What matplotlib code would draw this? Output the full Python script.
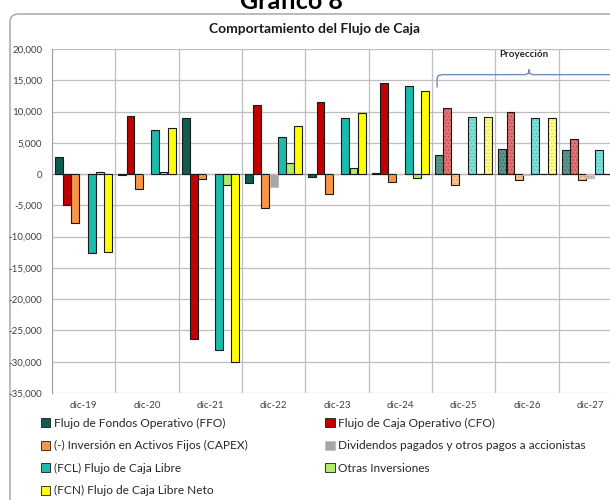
import numpy as np
import matplotlib
matplotlib.use('Agg')
import matplotlib.pyplot as plt
from matplotlib.patches import Patch, FancyBboxPatch

plt.rcParams['font.family'] = ['Lato', 'DejaVu Sans']
plt.rcParams['hatch.linewidth'] = 0.6

years = ['dic-19', 'dic-20', 'dic-21', 'dic-22', 'dic-23', 'dic-24', 'dic-25', 'dic-26', 'dic-27']
first_proj = 6  # dic-25 en adelante es proyeccion

series_names = ['Flujo de Fondos Operativo (FFO)',
                'Flujo de Caja Operativo (CFO)',
                '(-) Inversión en Activos Fijos (CAPEX)',
                'Dividendos pagados y otros pagos a accionistas',
                '(FCL) Flujo de Caja Libre',
                'Otras Inversiones',
                '(FCN) Flujo de Caja Libre Neto']

ffo = [2800, -150, 9000, -1500, -500, 150, 3100, 4000, 3800]
cfo = [-5000, 9300, -26300, 11100, 11500, 14600, 10500, 10000, 5600]
capex = [-7800, -2400, -800, -5400, -3200, -1300, -1800, -1000, -1000]
dividendos = [0, 0, 0, -2000, 0, 0, 0, -200, -700]
fcl = [-12600, 7000, -28100, 5900, 8900, 14100, 9200, 9000, 3900]
otras = [350, 300, -1700, 1800, 900, -700, 0, 0, 0]
fcn = [-12400, 7300, -30000, 7700, 9700, 13300, 9200, 9000, 3900]

all_series = [ffo, cfo, capex, dividendos, fcl, otras, fcn]

colors = ['#0F5C50', '#C00000', '#F79646', '#A6A6A6', '#1BBCAC', '#B0EC68', '#FFFF00']
proj_colors = ['#5C978D', '#E47474', '#FAC393', '#C9C9C9', '#80E0D8', '#D2F5A8', '#FFFF88']
hatch_colors = ['#2F6F64', '#B84040', '#E8A060', '#A0A0A0', '#40C0B4', '#A8D878', '#D8D840']
edge_colors = ['#1a1a1a', '#1a1a1a', '#1a1a1a', '#BFBFBF', '#1a1a1a', '#1a1a1a', '#1a1a1a']

fig = plt.figure(figsize=(6.1, 5.0), dpi=100)

# marco exterior del grafico
frame = FancyBboxPatch((10 / 610, -0.05), 1.2, 0.972 + 0.05,
                       boxstyle='round,pad=0,rounding_size=0.015',
                       transform=fig.transFigure, facecolor='none',
                       edgecolor='#A0A0A0', linewidth=1.0, zorder=-1)
fig.patches.append(frame)

ax = fig.add_axes([52 / 610, 0.214, 570 / 610, 0.688])
ax.set_facecolor('none')

x = np.arange(len(years))
slot = 0.13
width = 0.125

for j, vals in enumerate(all_series):
    pos = x + (j - 3) * slot
    vals = np.array(vals)
    hist = x < first_proj
    ax.bar(pos[hist], vals[hist], width, color=colors[j],
           edgecolor=edge_colors[j], linewidth=0.8, zorder=3)
    proj = ~hist
    ax.bar(pos[proj], vals[proj], width, color=proj_colors[j],
           edgecolor=hatch_colors[j], hatch='.....', linewidth=0, zorder=3)
    ax.bar(pos[proj], vals[proj], width, color='none',
           edgecolor=edge_colors[j], linewidth=0.8, zorder=4)

ax.set_xlim(-0.5, len(years) - 0.5)
ax.set_ylim(-35000, 20000)
ax.set_yticks(np.arange(-35000, 20001, 5000))
ax.yaxis.set_major_formatter(matplotlib.ticker.FuncFormatter(lambda v, p: '{:,.0f}'.format(v)))
ax.set_xticks(x)
ax.set_xticklabels(years)
ax.set_xticks(np.arange(-0.5, len(years), 1), minor=True)
ax.tick_params(axis='both', which='both', length=0, labelsize=7, colors='#404040', pad=6)
ax.tick_params(axis='y', pad=7)
ax.grid(axis='y', which='major', color='#BEBEBE', linewidth=0.9, zorder=0)
ax.grid(axis='x', which='minor', color='#BEBEBE', linewidth=0.9, zorder=0)
ax.grid(axis='x', which='major', visible=False)
for s in ['top', 'right', 'bottom']:
    ax.spines[s].set_visible(False)
ax.spines['left'].set_color('#A0A0A0')
ax.axhline(0, color='#A0A0A0', linewidth=0.9, zorder=2)

# llave de proyeccion
bx0 = first_proj - 0.42
bmid = first_proj + 1.03
by = 15900
brace_x = [bx0, bx0, bx0 + 0.02, bx0 + 0.08, bmid - 0.06, bmid - 0.01, bmid,
           bmid + 0.01, bmid + 0.06, len(years) + 0.2]
brace_y = [13950, 15300, 15750, by, by, by + 200, 16700, by + 200, by, by]
ax.plot(brace_x, brace_y, color='#6D8EBF', linewidth=1.0, clip_on=False, zorder=5)
ax.text(bmid - 0.08, 19100, 'Proyección', ha='center', va='center', fontsize=7,
        fontweight='bold', color='#262626')

fig.text(0.515, 0.942, 'Comportamiento del Flujo de Caja', ha='center', va='center',
         fontsize=10, fontweight='bold', color='#1a1a1a')
fig.text(0.477, 0.982, 'Gráfico 8', ha='center', va='baseline',
         fontsize=18, fontweight='bold', color='black')

# leyenda: el orden de matplotlib llena por columna
handles = [Patch(facecolor=colors[j], edgecolor=edge_colors[j], linewidth=0.6)
           for j in range(len(series_names))]
order = [0, 2, 4, 6, 1, 3, 5]
fig.legend([handles[i] for i in order], [series_names[i] for i in order],
           loc='lower left', bbox_to_anchor=(30 / 610, -0.014), ncol=2,
           frameon=False, fontsize=8.6, handlelength=0.8, handleheight=0.8,
           handletextpad=0.3, labelspacing=0.95, columnspacing=6.5,
           labelcolor='#262626')

fig.savefig('out.png', dpi=100)
